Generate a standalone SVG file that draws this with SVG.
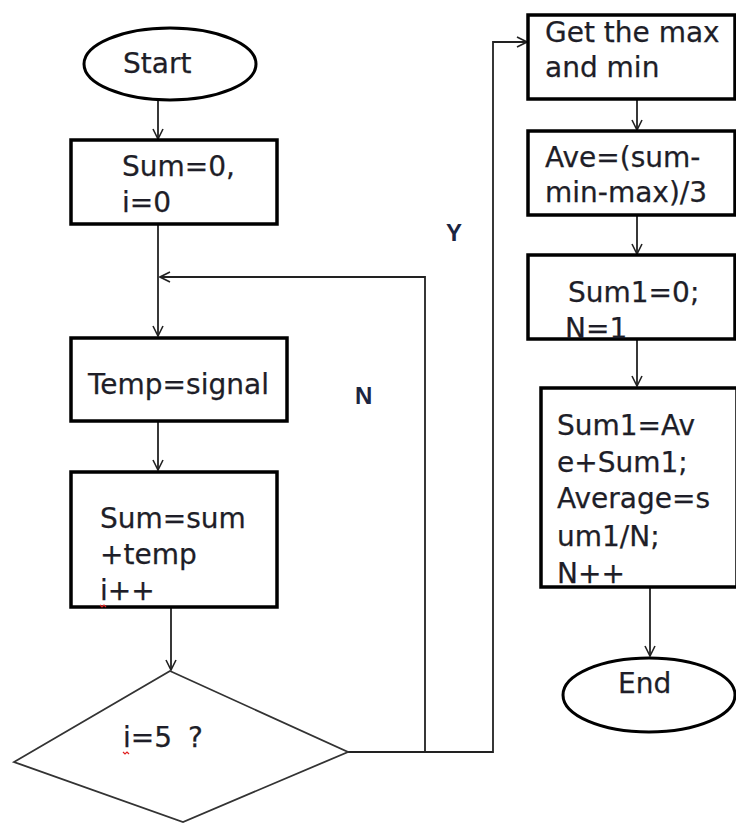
<svg xmlns="http://www.w3.org/2000/svg" width="736" height="824" viewBox="0 0 736 824">
<style>
.box{fill:#fff;stroke:#000;stroke-width:3.5}
.term{fill:#fff;stroke:#000;stroke-width:3}
.dia{fill:#fff;stroke:#333;stroke-width:1.8}
.t{font-family:"DejaVu Sans",sans-serif;font-size:28px;fill:#1e1e28;stroke:#1e1e28;stroke-width:0.25}
.lbl{font-family:"Liberation Sans",Arial,sans-serif;font-weight:bold;font-size:24px;fill:#1c2540}
.c{fill:none;stroke:#222;stroke-width:1.8}
.sq{fill:none;stroke:#e02020;stroke-width:1.2}
</style>
<defs>
<marker id="ah" viewBox="0 0 12 12" refX="11" refY="6" markerWidth="12" markerHeight="12" markerUnits="userSpaceOnUse" orient="auto">
<path d="M1,1 L11,6 L1,11" fill="none" stroke="#222" stroke-width="1.6"/>
</marker>
</defs>
<g id="connectors">
<path class="c" d="M158,100 V139" marker-end="url(#ah)"/>
<path class="c" d="M158,224 V336" marker-end="url(#ah)"/>
<path class="c" d="M425,752 V277 H160" marker-end="url(#ah)"/>
<path class="c" d="M158,421 V470" marker-end="url(#ah)"/>
<path class="c" d="M171,598 V670" marker-end="url(#ah)"/>
<path class="c" d="M348,752 H493 V42 H527" marker-end="url(#ah)"/>
<path class="c" d="M637,99 V130" marker-end="url(#ah)"/>
<path class="c" d="M637,215 V254" marker-end="url(#ah)"/>
<path class="c" d="M637,339 V386" marker-end="url(#ah)"/>
<path class="c" d="M650,587 V656" marker-end="url(#ah)"/>
<text class="lbl" x="446" y="241">Y</text>
<text class="lbl" x="355" y="404">N</text>
</g>
<g id="start">
<ellipse class="term" cx="170" cy="64" rx="86" ry="36"/>
<text class="t" x="123" y="73">Start</text>
</g>
<g id="init">
<rect class="box" x="71" y="140" width="206" height="84"/>
<text class="t" x="122" y="176">Sum=0,</text>
<text class="t" x="122" y="212">i=0</text>
</g>
<g id="temp">
<rect class="box" x="71" y="338" width="216" height="83"/>
<text class="t" x="88" y="394">Temp=signal</text>
</g>
<g id="sum">
<rect class="box" x="71" y="472" width="206" height="135"/>
<text class="t" x="100" y="528">Sum=sum</text>
<text class="t" x="100" y="564">+temp</text>
<text class="t" x="100" y="600">i++</text>
<path class="sq" d="M100,605 l2,2 l2,-2 l2,2"/>
</g>
<g id="decision">
<polygon class="dia" points="170,671 348,752 183,822 14,762"/>
<text class="t" x="123" y="747">i=5<tspan x="188">?</tspan></text>
<path class="sq" d="M123,752 l2,2 l2,-2 l2,2"/>
</g>
<g id="maxmin">
<rect class="box" x="528" y="15" width="207" height="84"/>
<text class="t" x="545" y="42">Get the max</text>
<text class="t" x="545" y="77">and min</text>
</g>
<g id="ave">
<rect class="box" x="528" y="131" width="207" height="84"/>
<text class="t" x="545" y="167">Ave=(sum-</text>
<text class="t" x="545" y="202">min-max)/3</text>
</g>
<g id="sum1init">
<rect class="box" x="528" y="255" width="207" height="84"/>
<text class="t" x="568" y="302">Sum1=0;</text>
<text class="t" x="565" y="338">N=1</text>
</g>
<g id="loop">
<rect class="box" x="541" y="388" width="196" height="199"/>
<text class="t" x="557" y="435">Sum1=Av</text>
<text class="t" x="557" y="472">e+Sum1;</text>
<text class="t" x="557" y="508">Average=s</text>
<text class="t" x="557" y="546">um1/N;</text>
<text class="t" x="557" y="583">N++</text>
</g>
<g id="end">
<ellipse class="term" cx="649" cy="695" rx="86" ry="37"/>
<text class="t" x="618" y="693">End</text>
</g>
</svg>
